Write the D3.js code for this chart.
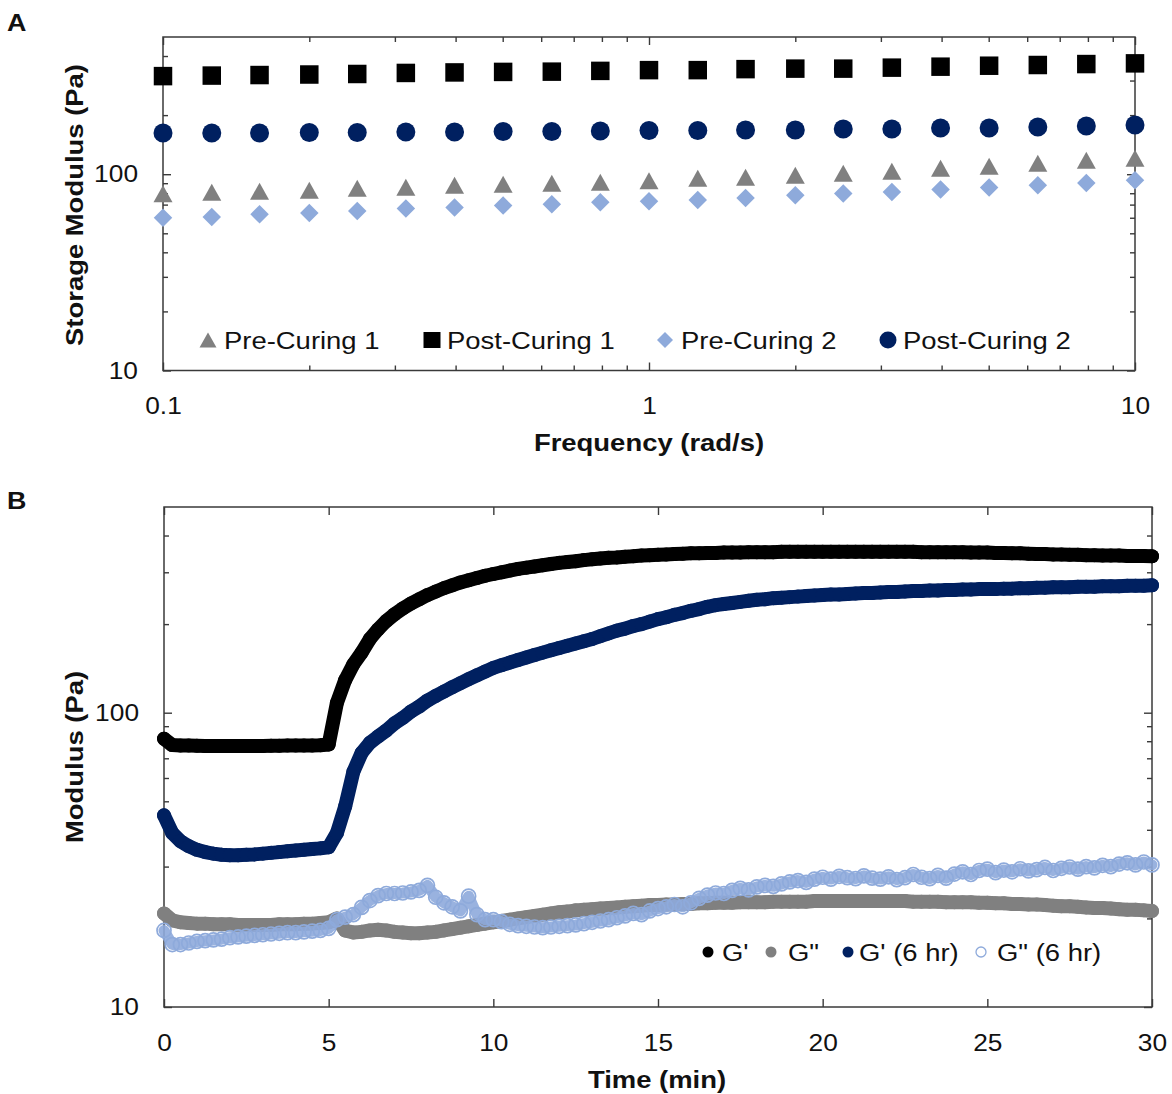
<!DOCTYPE html>
<html><head><meta charset="utf-8">
<script src="https://cdn.jsdelivr.net/npm/d3@7"></script>
<style>body{margin:0;background:#fff}svg{display:block}</style>
</head><body>
<svg id="chart" width="1172" height="1094"></svg>
<script>
// ---------- Panel A data ----------
const freq = [0.1,0.126,0.158,0.2,0.251,0.316,0.398,0.501,0.631,0.794,1,1.26,1.58,2,2.51,3.16,3.98,5.01,6.31,7.94,10];
const preCuring1  = [79.4,80.9,81.9,82.9,84.8,85.8,87.8,88.9,89.9,91.0,92.6,95.4,96.6,98.9,101.2,103.6,107.3,109.8,113.8,117.9,120.7];
const postCuring1 = [316,318,320,322,324,328,330,332,333,336,339,339,343,345,345,349,353,357,360,364,367];
const preCuring2  = [60.0,60.6,62.5,63.5,65.0,66.8,67.6,69.2,70.3,72.0,72.8,73.9,75.7,78.1,79.7,81.2,83.6,85.5,87.9,90.3,93.2];
const postCuring2 = [162,162,162,163,163,164,164,165,165,166,167,167,168,168,170,170,172,172,174,176,178];
const legendA = ["Pre-Curing 1","Post-Curing 1","Pre-Curing 2","Post-Curing 2"];
const freqMajor = [0.1,1,10];
const freqMinor = [0.2,0.3,0.4,0.5,0.6,0.7,0.8,0.9,2,3,4,5,6,7,8,9];
const modMajor = [10,100];
const modMinor = [20,30,40,50,60,70,80,90,200,300,400];

// ---------- Panel B data ----------
const timeMin = [0,0.25,0.5,0.75,1,1.25,1.5,1.75,2,2.25,2.5,2.75,3,3.25,3.5,3.75,4,4.25,4.5,4.75,
 5,5.25,5.5,5.75,6,6.25,6.5,6.75,7,7.25,7.5,7.75,8,8.25,8.5,8.75,9,9.25,9.5,9.75,10,
 10.25,10.5,10.75,11,11.25,11.5,11.75,12,12.25,12.5,12.75,13,13.25,13.5,13.75,14,14.25,14.5,14.75,15,
 15.25,15.5,15.75,16,16.25,16.5,16.75,17,17.25,17.5,17.75,18,18.25,18.5,18.75,19,19.25,19.5,19.75,20,
 20.25,20.5,20.75,21,21.25,21.5,21.75,22,22.25,22.5,22.75,23,23.25,23.5,23.75,24,24.25,24.5,24.75,25,
 25.25,25.5,25.75,26,26.25,26.5,26.75,27,27.25,27.5,27.75,28,28.25,28.5,28.75,29,29.25,29.5,29.75,30];
const gPrime = [81.6,
 77.6,77.4,77.3,77.2,77.1,77.0,77.0,77.0,77.0,77.0,77.1,77.1,77.2,77.2,77.3,77.3,77.4,77.4,77.5,
 78,
 108,129,146,160,178,192,205,216,226,235,243,251,258,265,271,277,282,287,292,296,
 300,304,308,311,314,317,320,323,325,327,330,332,334,336,337,339,340,342,343,344,
 345,346,347,348,348,349,349,350,350,350,351,351,351,351,352,352,352,352,352,352,
 352,352,352,352,352,352,352,352,352,352,352,351,351,351,351,351,351,350,350,350,
 349,349,348,348,347,346,346,345,345,344,344,343,343,342,342,342,341,341,341,340];
const gDouble = [20.8,
 19.7,19.4,19.3,19.2,19.2,19.1,19.1,19.1,19.0,19.0,19.0,19.0,19.0,19.1,19.1,19.1,19.2,19.2,19.3,
 19.4,
 20.0,18.2,17.9,18.0,18.2,18.3,18.2,18.0,17.9,17.8,17.8,17.9,18.0,18.2,18.4,18.6,18.8,19.0,19.2,19.4,
 19.6,19.8,20.0,20.2,20.4,20.6,20.8,21.0,21.1,21.3,21.4,21.5,21.6,21.7,21.8,21.9,22.0,22.1,22.2,22.2,
 22.3,22.3,22.4,22.4,22.5,22.5,22.6,22.6,22.6,22.7,22.7,22.7,22.7,22.8,22.8,22.8,22.8,22.8,22.9,22.9,
 22.9,22.9,22.9,22.9,22.9,22.9,22.9,22.9,22.9,22.9,22.8,22.8,22.8,22.8,22.7,22.7,22.7,22.7,22.6,22.6,
 22.5,22.5,22.4,22.4,22.3,22.3,22.2,22.1,22.0,22.0,21.9,21.8,21.7,21.7,21.6,21.5,21.4,21.4,21.3,21.2];
const gPrime6h = [44.8,
 39.0,36.6,35.2,34.2,33.6,33.2,32.9,32.8,32.8,32.9,33.0,33.2,33.4,33.6,33.8,34.0,34.2,34.4,34.6,
 34.9,
 39,48,63,73,79,83,87,92,96,101,105,110,114,118,122,126,130,134,138,142,
 145,148,151,154,157,160,163,166,169,172,175,178,182,186,190,193,197,200,204,208,
 211,215,218,222,225,229,232,234,236,238,240,242,243,245,246,247,248,249,250,251,
 252,252,253,254,255,255,256,257,257,258,259,259,260,260,261,261,262,262,263,263,
 263,264,264,265,265,266,266,267,267,267,268,268,268,269,269,269,270,270,270,271];
const gDouble6h = [18.2,
 16.3,16.3,16.5,16.7,16.8,16.9,17.0,17.2,17.3,17.4,17.5,17.6,17.7,17.8,17.9,17.9,18.0,18.1,18.2,
 18.5,
 19.8,20.2,20.6,21.8,23.0,23.9,24.3,24.3,24.4,24.6,24.9,25.9,23.6,22.6,21.9,21.2,23.8,20.6,19.8,19.8,
 19.5,19.1,18.9,18.8,18.7,18.6,18.7,18.8,18.9,19.0,19.2,19.4,19.6,19.8,20.1,20.4,20.8,20.6,21.2,21.6,
 21.9,22.3,21.9,22.6,23.4,24.0,24.4,24.3,24.9,25.3,25.0,25.6,25.9,25.7,26.2,26.6,26.9,26.5,27.2,27.6,
 27.2,27.8,27.5,27.3,27.9,27.4,27.2,27.7,27.1,27.5,28.2,27.6,27.3,28.0,27.4,28.3,28.8,28.2,29.1,29.4,
 28.6,29.2,28.8,29.5,29.0,29.3,29.8,29.1,29.6,29.9,29.4,30.0,29.7,30.3,30.0,30.6,30.9,30.4,31.1,30.4];
const legendB = ["G'", 'G"', "G' (6 hr)", 'G" (6 hr)'];
const timeMajor = [0,5,10,15,20,25,30];

// ---------- styling ----------
const FONT = '"Liberation Sans", Arial, Helvetica, sans-serif';
const SX = 1.12;           // horizontal stretch of the original figure's text
const AX = '#3a3a3a';
const TXT = '#111111';
const C_BLACK = '#000000', C_GREY = '#808080', C_NAVY = '#002060', C_LIGHT = '#8eaadb';

const svg = d3.select('#chart');

function txt(parent, x, y, s, o) {
  const g = parent.append('g')
    .attr('transform', `translate(${x},${y})${o.rot ? ` rotate(${o.rot})` : ''} scale(${SX},1)`);
  g.append('text')
    .attr('text-anchor', o.anchor || 'start')
    .attr('font-family', FONT)
    .attr('font-size', o.size)
    .attr('font-weight', o.weight || 'normal')
    .attr('fill', TXT)
    .text(s);
  return g;
}
function styleAxis(g, labels, size) {
  g.select('.domain').remove();
  g.selectAll('line').attr('stroke', AX).attr('stroke-width', 1.4);
  if (!labels) g.selectAll('text').remove();
  else g.selectAll('text').each(function () {
    const t = d3.select(this);
    const x = +t.attr('x') || 0;
    t.attr('x', x / SX).attr('transform', `scale(${SX},1)`)
     .attr('font-family', FONT).attr('font-size', size).attr('fill', TXT);
  });
}
function frame(l, r, t, b) {
  svg.append('rect').attr('x', l).attr('y', t).attr('width', r - l).attr('height', b - t)
    .attr('fill', 'none').attr('stroke', AX).attr('stroke-width', 1.5);
}

// ================= Panel A =================
const A = {l: 163, r: 1135, t: 37, b: 370.5};
const xA = d3.scaleLog().domain([0.1, 10]).range([A.l, A.r]);
const yA = d3.scaleLog().domain([10, 500]).range([A.b, A.t]);
frame(A.l, A.r, A.t, A.b);

styleAxis(svg.append('g').attr('transform', `translate(0,${A.b})`)
  .call(d3.axisBottom(xA).tickValues(freqMajor).tickSize(-8).tickPadding(27).tickFormat(d => d)), true, 23.5);
styleAxis(svg.append('g').attr('transform', `translate(0,${A.b})`)
  .call(d3.axisBottom(xA).tickValues(freqMinor).tickSize(-5)), false);
styleAxis(svg.append('g').attr('transform', `translate(0,${A.t})`)
  .call(d3.axisTop(xA).tickValues(freqMajor).tickSize(-8)), false);
styleAxis(svg.append('g').attr('transform', `translate(0,${A.t})`)
  .call(d3.axisTop(xA).tickValues(freqMinor).tickSize(-5)), false);
styleAxis(svg.append('g').attr('transform', `translate(${A.l},0)`)
  .call(d3.axisLeft(yA).tickValues(modMajor).tickSize(-8).tickPadding(25).tickFormat(d => d)), true, 23.5);
styleAxis(svg.append('g').attr('transform', `translate(${A.l},0)`)
  .call(d3.axisLeft(yA).tickValues(modMinor).tickSize(-5)), false);
styleAxis(svg.append('g').attr('transform', `translate(${A.r},0)`)
  .call(d3.axisRight(yA).tickValues(modMajor).tickSize(-8)), false);
styleAxis(svg.append('g').attr('transform', `translate(${A.r},0)`)
  .call(d3.axisRight(yA).tickValues(modMinor).tickSize(-5)), false);

const shapes = {
  tri: (w, h) => `M0,${-h/2}L${w/2},${h/2}L${-w/2},${h/2}Z`,
  sq: (w, h) => `M${-w/2},${-h/2}H${w/2}V${h/2}H${-w/2}Z`,
  dia: (w, h) => `M0,${-h/2}L${w/2},0L0,${h/2}L${-w/2},0Z`,
  circ: (w, h) => `M${w/2},0A${w/2},${h/2} 0 1,1 ${-w/2},0A${w/2},${h/2} 0 1,1 ${w/2},0Z`
};
const seriesA = [
  {vals: preCuring1,  color: C_GREY,  shape: 'tri',  w: 19,   h: 17},
  {vals: postCuring1, color: C_BLACK, shape: 'sq',   w: 18.5, h: 18.5},
  {vals: preCuring2,  color: C_LIGHT, shape: 'dia',  w: 18.5, h: 18.5},
  {vals: postCuring2, color: C_NAVY,  shape: 'circ', w: 19,   h: 19}
];
const gA = svg.append('g');
seriesA.forEach(s => {
  gA.append('g').selectAll('path').data(freq).join('path')
    .attr('transform', (d, i) => `translate(${xA(d)},${yA(s.vals[i])})`)
    .attr('d', shapes[s.shape](s.w, s.h))
    .attr('fill', s.color);
});

const legAx = [[208, 224], [432, 447], [665, 681], [888, 903]];
const legAsz = [[17, 15], [17, 16], [16, 16], [17, 17]];
legendA.forEach((lab, i) => {
  svg.append('path').attr('transform', `translate(${legAx[i][0]},340)`)
    .attr('d', shapes[seriesA[i].shape](legAsz[i][0], legAsz[i][1])).attr('fill', seriesA[i].color);
  txt(svg, legAx[i][1], 348.5, lab, {size: 24.5});
});

txt(svg, 649, 451, 'Frequency (rad/s)', {size: 24.5, weight: 'bold', anchor: 'middle'});
txt(svg, 83, 205, 'Storage Modulus (Pa)', {size: 24.5, weight: 'bold', anchor: 'middle', rot: -90});
txt(svg, 7, 31, 'A', {size: 24, weight: 'bold'});

// ================= Panel B =================
const B = {l: 164, r: 1152, t: 507, b: 1007};
const xB = d3.scaleLinear().domain([0, 30]).range([B.l, B.r]);
const yB = d3.scaleLog().domain([10, 500]).range([B.b, B.t]);
frame(B.l, B.r, B.t, B.b);

styleAxis(svg.append('g').attr('transform', `translate(0,${B.b})`)
  .call(d3.axisBottom(xB).tickValues(timeMajor).tickSize(-8).tickPadding(27).tickFormat(d => d)), true, 23.5);
styleAxis(svg.append('g').attr('transform', `translate(0,${B.t})`)
  .call(d3.axisTop(xB).tickValues(timeMajor).tickSize(-8)), false);
styleAxis(svg.append('g').attr('transform', `translate(${B.l},0)`)
  .call(d3.axisLeft(yB).tickValues(modMajor).tickSize(-8).tickPadding(25).tickFormat(d => d)), true, 23.5);
styleAxis(svg.append('g').attr('transform', `translate(${B.l},0)`)
  .call(d3.axisLeft(yB).tickValues(modMinor).tickSize(-5)), false);
styleAxis(svg.append('g').attr('transform', `translate(${B.r},0)`)
  .call(d3.axisRight(yB).tickValues(modMajor).tickSize(-8)), false);
styleAxis(svg.append('g').attr('transform', `translate(${B.r},0)`)
  .call(d3.axisRight(yB).tickValues(modMinor).tickSize(-5)), false);

const lineB = vals => d3.line().x((d, i) => xB(timeMin[i])).y((d, i) => yB(vals[i]))(vals);
const seriesB = [
  {vals: gPrime,    color: C_BLACK, open: false},
  {vals: gDouble,   color: C_GREY,  open: false},
  {vals: gPrime6h,  color: C_NAVY,  open: false},
  {vals: gDouble6h, color: C_LIGHT, open: true}
];
const gB = svg.append('g');
seriesB.forEach(s => {
  gB.append('path').attr('d', lineB(s.vals)).attr('fill', 'none')
    .attr('stroke', s.color).attr('stroke-width', s.open ? 11 : 14)
    .attr('stroke-linejoin', 'round').attr('stroke-linecap', 'round')
    .attr('opacity', s.open ? 0.9 : 1);
  gB.append('g').selectAll('circle').data(s.vals).join('circle')
    .attr('cx', (d, i) => xB(timeMin[i])).attr('cy', d => yB(d))
    .attr('r', 7)
    .attr('fill', s.open ? 'none' : s.color)
    .attr('stroke', s.color).attr('stroke-width', s.open ? 1.7 : 0);
});

const legBx = [[708, 722], [771, 788], [848, 859], [981, 997]];
legendB.forEach((lab, i) => {
  const s = seriesB[i];
  svg.append('circle').attr('cx', legBx[i][0]).attr('cy', 952).attr('r', s.open ? 5 : 5.5)
    .attr('fill', s.open ? 'none' : s.color).attr('stroke', s.color).attr('stroke-width', s.open ? 1.3 : 0);
  txt(svg, legBx[i][1], 960.5, lab, {size: 24.5});
});

txt(svg, 657, 1088, 'Time (min)', {size: 24.5, weight: 'bold', anchor: 'middle'});
txt(svg, 83, 757, 'Modulus (Pa)', {size: 24.5, weight: 'bold', anchor: 'middle', rot: -90});
txt(svg, 7, 509, 'B', {size: 24, weight: 'bold'});
</script>
</body></html>
